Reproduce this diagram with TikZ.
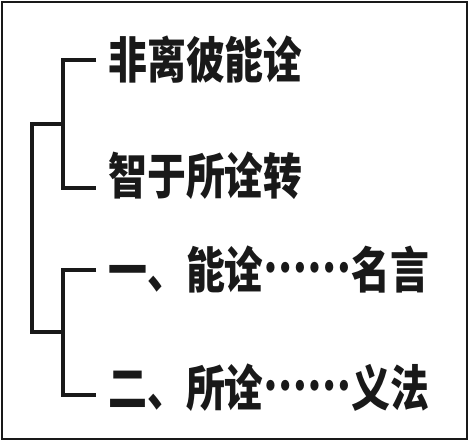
\documentclass[tikz,border=0pt]{standalone}
\usepackage{fontspec}
\usetikzlibrary{positioning, calc}
\newfontfamily\cjk{Noto Sans CJK SC}[FakeStretch=0.79]
\definecolor{lineColor}{RGB}{25, 25, 25}
\newcommand{\midDots}{\raisebox{0.33em}{……}}
\tikzset{
    % --- 文字行 ---
    itemText/.style={
        anchor=west, inner xsep=0.3cm, inner ysep=0pt, text=lineColor,
        font=\cjk\bfseries\fontsize{35}{35}\selectfont
    },
    % --- 括线 ---
    brace/.style={
        draw=lineColor, line width=2.3pt
    },
    % --- 外框 ---
    frameBox/.style={
        draw=lineColor, line width=2.1pt
    }
}

\begin{document}
\begin{tikzpicture}

	% =========================================
	% 1. 外框与文字
	% =========================================
	\useasboundingbox (0,0) rectangle (11.75,11.05);
	\draw[frameBox] (0.05,0.075) rectangle (11.675,11.0);

	\node[itemText] (l1) at (2.4, 9.55) {非离彼能诠};
	\node[itemText] (l2) at (2.4, 6.65) {智于所诠转};
	\node[itemText] (l3) at (2.4, 4.3) {一、能诠\midDots 名言};
	\node[itemText] (l4) at (2.4, 1.35) {二、所诠\midDots 义法};

	% =========================================
	% 2. 括线
	% =========================================
	\coordinate (j1) at (1.575, 7.95);
	\coordinate (j2) at (1.575, 2.75);
	\coordinate (root) at (0.8, 5.35);

	\draw[brace] (l1.west) -| (j1) |- ([yshift=-0.3cm]l2.west);
	\draw[brace] (l3.west) -| (j2) |- ([yshift=-0.175cm]l4.west);
	\draw[brace] (j1) -| (root) |- (j2);

\end{tikzpicture}
\end{document}
